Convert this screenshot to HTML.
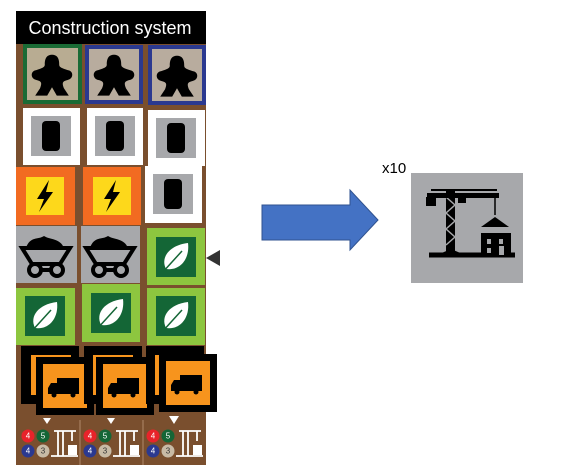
<!DOCTYPE html>
<html><head><style>body{margin:0;background:#fff;}svg{display:block}</style></head><body>
<svg width="567" height="472" viewBox="0 0 567 472" xmlns="http://www.w3.org/2000/svg">
<defs>
<g id="meeple"><path d="M0,-16 C-5,-16 -6,-12 -6,-8 C-6,-6 -7,-5 -14,-3 C-18,-2 -18,4 -13,5 C-9,6 -8,7 -10,12 L-14,18 L-4,18 L0,11 L4,18 L14,18 L10,12 C8,7 9,6 13,5 C18,4 18,-2 14,-3 C7,-5 6,-6 6,-8 C6,-12 5,-16 0,-16Z" fill="#000" transform="scale(1.2)"/></g>
<g id="barrel"><rect x="-20" y="-20" width="40" height="40" fill="#a7a8ab"/><rect x="-9" y="-15" width="18" height="30" rx="4" fill="#000"/></g>
<g id="bolt"><rect x="-19" y="-19" width="38" height="38" fill="#fdd81b"/><path d="M4,-16 L-8,3 L-1,3 L-6,16 L8,-4 L1,-4 Z" fill="#000"/></g>
<g id="cart"><path d="M-24,-8 L24,-8 L14,8 L-14,8Z" fill="none" stroke="#000" stroke-width="4"/><path d="M-20,-8 C-16,-20 -8,-16 -2,-20 C4,-16 14,-18 18,-8Z" fill="#000"/><circle cx="-11" cy="14" r="6" fill="none" stroke="#000" stroke-width="4"/><circle cx="11" cy="14" r="6" fill="none" stroke="#000" stroke-width="4"/><path d="M-5,14 L5,14" stroke="#000" stroke-width="4"/></g>
<g id="leaf"><rect x="-20" y="-20" width="40" height="40" fill="#146636"/><path d="M-10,12 C-16,0 -6,-12 12,-14 C14,2 4,14 -10,12Z" fill="#fff"/><path d="M-14,16 L6,-6" stroke="#146636" stroke-width="1.5"/></g>
<g id="truck"><rect x="-29" y="-29" width="58" height="58" fill="#000"/><rect x="-22" y="-22" width="44" height="44" fill="#f7941d"/><rect x="-8" y="-8" width="22" height="14" fill="#000"/><path d="M-8,-3 L-14,-3 L-17,2 L-17,8 L14,8 L14,4 L-8,4Z" fill="#000"/><circle cx="-11" cy="9" r="2.5" fill="#000"/><circle cx="8" cy="9" r="2.5" fill="#000"/></g>
<g id="tokens"><circle cx="0" cy="0" r="6.5" fill="#e8232a"/><text x="0" y="2.5" font-size="8" text-anchor="middle" fill="#fff" font-family="Liberation Sans">4</text><circle cx="15" cy="0" r="6.5" fill="#146636"/><text x="15" y="2.5" font-size="8" text-anchor="middle" fill="#fff" font-family="Liberation Sans">5</text><circle cx="0" cy="15" r="6.5" fill="#2b3990"/><text x="0" y="17.5" font-size="8" text-anchor="middle" fill="#fff" font-family="Liberation Sans">4</text><circle cx="15" cy="15" r="6.5" fill="#c8bba6"/><text x="15" y="17.5" font-size="8" text-anchor="middle" fill="#333" font-family="Liberation Sans">3</text><path d="M26,-5 L48,-5 M30,-5 L30,20 M35,-5 L35,20 M44,-5 L44,5 M23,20 L50,20" stroke="#fff" stroke-width="1.8" fill="none"/><rect x="40" y="9" width="9" height="10" fill="#fff"/></g>
<g id="crane"><path d="M18,82 L104,82" stroke="#000" stroke-width="5"/><path d="M26,82 L40,76 L54,82Z" fill="#000"/><rect x="35" y="16" width="9" height="66" fill="#000"/><path d="M35,24 L44,32 L35,40 L44,48 L35,56 L44,64 L35,72" stroke="#a7a8ab" stroke-width="1.5" fill="none"/><path d="M16,20 L88,20 L88,25 L16,25Z" fill="#000"/><path d="M20,17 L86,17" stroke="#000" stroke-width="2"/><rect x="15" y="24" width="10" height="9" fill="#000"/><rect x="47" y="25" width="8" height="5" fill="#000"/><path d="M84,25 L84,42" stroke="#000" stroke-width="1.5"/><path d="M70,54 L84,44 L98,54Z" fill="#000"/><rect x="70" y="60" width="30" height="24" fill="#000"/><rect x="76" y="66" width="4" height="5" fill="#a7a8ab"/><rect x="88" y="66" width="4" height="5" fill="#a7a8ab"/><rect x="76" y="75" width="4" height="5" fill="#a7a8ab"/><rect x="88" y="73" width="5" height="9" fill="#a7a8ab"/></g>
</defs>
<rect x="16" y="44" width="190" height="421" fill="#7a4f2e"/>
<rect x="16" y="11" width="190" height="33" fill="#000"/>
<text x="110" y="34" font-size="18" fill="#fff" text-anchor="middle" font-family="Liberation Sans">Construction system</text>
<rect x="25" y="46" width="55" height="56" fill="#b8ac92" stroke="#1a6b35" stroke-width="4"/><use href="#meeple" x="52" y="74"/>
<rect x="87" y="47" width="54" height="55" fill="#b8ac9e" stroke="#2b3990" stroke-width="4"/><use href="#meeple" x="114" y="74"/>
<rect x="150" y="47" width="54" height="56" fill="#b8ac9e" stroke="#2b3990" stroke-width="4"/><use href="#meeple" x="177" y="75"/>
<rect x="23" y="108" width="57" height="57" fill="#fff"/><use href="#barrel" x="51" y="136"/>
<rect x="87" y="108" width="56" height="57" fill="#fff"/><use href="#barrel" x="115" y="136"/>
<rect x="148" y="110" width="57" height="56" fill="#fff"/><use href="#barrel" x="176" y="138"/>
<rect x="16" y="167" width="59" height="58" fill="#f26b21"/><use href="#bolt" x="45" y="196"/>
<rect x="83" y="167" width="58" height="58" fill="#f26b21"/><use href="#bolt" x="112" y="196"/>
<rect x="145" y="166" width="57" height="57" fill="#fff"/><use href="#barrel" x="173" y="194"/>
<rect x="16" y="226" width="61" height="57" fill="#a7a8ab"/><use href="#cart" x="46" y="256"/>
<rect x="81" y="226" width="59" height="57" fill="#a7a8ab"/><use href="#cart" x="110" y="256"/>
<rect x="147" y="228" width="58" height="57" fill="#8dc63f"/><use href="#leaf" x="176" y="257"/>
<rect x="16" y="288" width="59" height="57" fill="#8dc63f"/><use href="#leaf" x="45" y="316"/>
<rect x="82" y="284" width="58" height="58" fill="#8dc63f"/><use href="#leaf" x="111" y="313"/>
<rect x="147" y="288" width="58" height="57" fill="#8dc63f"/><use href="#leaf" x="176" y="316"/>
<rect x="21" y="346" width="58" height="58" fill="#000"/><rect x="31" y="355" width="40" height="40" fill="#f7941d"/>
<use href="#truck" x="65" y="386"/>
<rect x="84" y="346" width="58" height="58" fill="#000"/><rect x="93" y="355" width="40" height="40" fill="#f7941d"/>
<use href="#truck" x="125" y="386"/>
<rect x="146" y="346" width="58" height="58" fill="#000"/><rect x="155" y="355" width="40" height="40" fill="#f7941d"/>
<use href="#truck" x="188" y="383"/>
<path d="M43,418 L51,418 L47,424Z" fill="#fff"/><path d="M107,418 L115,418 L111,424Z" fill="#fff"/><path d="M169,416 L179,416 L174,424Z" fill="#fff"/>
<path d="M80,420 L80,465 M143,420 L143,465" stroke="#b08a6a" stroke-width="1"/>
<use href="#tokens" x="28" y="436"/><use href="#tokens" x="90" y="436"/><use href="#tokens" x="153" y="436"/>
<path d="M220,250 L220,266 L206,258Z" fill="#333"/>
<path d="M262,205 L350,205 L350,190 L378,220 L350,250 L350,240 L262,240Z" fill="#4472c4" stroke="#2f528f" stroke-width="1"/>
<text x="382" y="173" font-size="15" font-family="Liberation Sans" fill="#000">x10</text>
<rect x="411" y="173" width="112" height="110" fill="#a7a8ab"/>
<use href="#crane" x="411" y="173"/>
</svg>
</body></html>
